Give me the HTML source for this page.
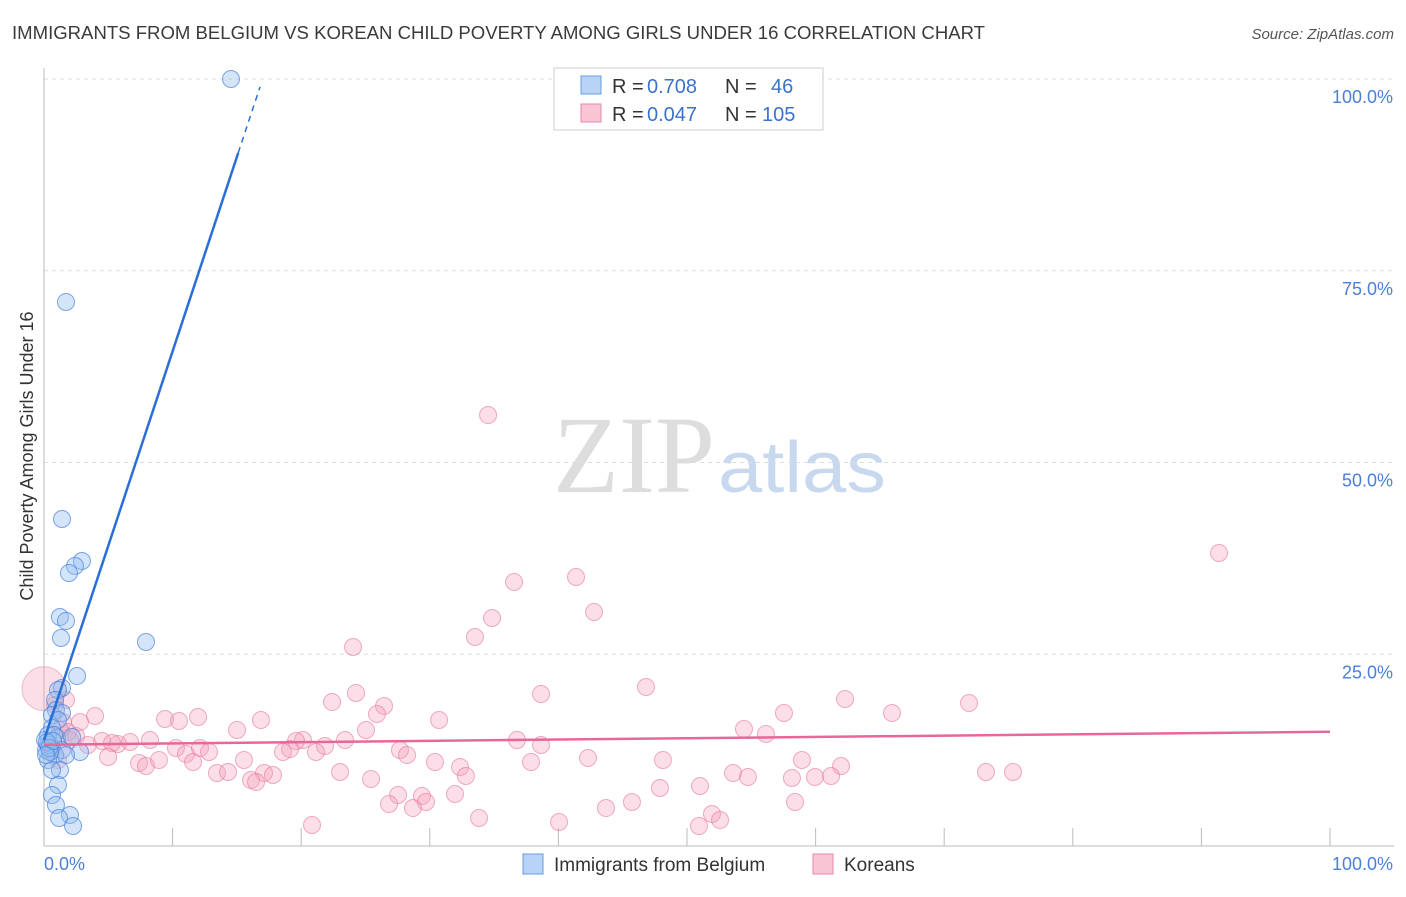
<!DOCTYPE html>
<html><head><meta charset="utf-8"><style>
body{margin:0;background:#fff;font-family:"Liberation Sans",sans-serif}
</style></head><body>
<svg width="1406" height="892" xmlns="http://www.w3.org/2000/svg" id="svg">
<text x="12" y="39" font-size="18" fill="#3a3a3a" textLength="973" lengthAdjust="spacingAndGlyphs">IMMIGRANTS FROM BELGIUM VS KOREAN CHILD POVERTY AMONG GIRLS UNDER 16 CORRELATION CHART</text>
<text x="1394" y="39" font-size="15" fill="#555" font-style="italic" text-anchor="end">Source: ZipAtlas.com</text>
<text x="33" y="456" font-size="18" fill="#333" text-anchor="middle" transform="rotate(-90 33 456)">Child Poverty Among Girls Under 16</text>
<text x="553" y="492" font-size="110" fill="#ddd" font-family="Liberation Serif" textLength="162" lengthAdjust="spacingAndGlyphs">ZIP</text>
<text x="718" y="492" font-size="72" fill="#c8d8ef" textLength="168" lengthAdjust="spacingAndGlyphs">atlas</text>
<g id="grid"></g><g id="pts"></g><g id="lines"></g>
<g>
<rect x="554" y="68" width="269" height="62" fill="#fff" stroke="#ccc"/>
<rect x="581" y="76" width="20" height="18" fill="#b8d3f5" stroke="#6a9de0"/>
<rect x="581" y="104" width="20" height="18" fill="#f9c4d4" stroke="#e58aa7"/>
<text y="93" font-size="20" fill="#333"><tspan x="612">R =</tspan><tspan x="647" fill="#3a72d0">0.708</tspan><tspan x="725">N =</tspan><tspan x="771" fill="#3a72d0">46</tspan></text>
<text y="121" font-size="20" fill="#333"><tspan x="612">R =</tspan><tspan x="647" fill="#3a72d0">0.047</tspan><tspan x="725">N =</tspan><tspan x="762" fill="#3a72d0">105</tspan></text>
</g>
<g>
<rect x="523" y="854" width="20" height="20" fill="#b8d3f5" stroke="#6a9de0"/>
<text x="554" y="871" font-size="19" fill="#333">Immigrants from Belgium</text>
<rect x="813" y="854" width="20" height="20" fill="#f9c4d4" stroke="#e58aa7"/>
<text x="844" y="871" font-size="19" fill="#333">Koreans</text>
</g>
</svg>
<script>
const bluePx=[[231,79],[66,302],[62,519],[82,561],[75,566],[69,573],[60,617],[66,621],[61,638],[146,642],[77,676],[62,688],[58,690],[55,700],[56,710],[52,715],[62,713],[58,720],[52,728],[48,735],[57,738],[72,737],[50,745],[46,750],[52,748],[62,750],[80,752],[55,755],[48,760],[66,755],[60,770],[52,770],[58,785],[52,795],[56,805],[70,815],[59,818],[73,826],[48,745],[45,740],[50,752],[54,735],[47,742],[49,748],[53,741],[46,755]];
const pinkPx=[[488,415],[1219,553],[576,577],[514,582],[594,612],[492,618],[475,637],[353,647],[646,687],[356,693],[541,694],[332,702],[384,706],[845,699],[969,703],[892,713],[784,713],[377,714],[439,720],[95,716],[165,719],[179,721],[198,717],[261,720],[237,730],[366,730],[744,729],[766,734],[517,740],[541,745],[345,740],[303,740],[296,741],[325,746],[63,722],[68,732],[76,736],[102,741],[118,744],[130,742],[150,740],[112,743],[88,745],[176,748],[186,754],[200,748],[209,752],[290,749],[316,752],[400,750],[407,755],[283,752],[244,760],[139,763],[108,757],[146,766],[159,760],[193,762],[217,773],[228,772],[264,773],[273,775],[251,780],[256,782],[340,772],[371,779],[435,762],[460,767],[466,776],[531,762],[588,758],[663,760],[802,760],[841,766],[733,773],[748,777],[792,778],[815,777],[831,776],[986,772],[1013,772],[660,788],[700,786],[455,794],[398,795],[422,796],[426,802],[389,804],[413,808],[632,802],[606,808],[795,802],[479,818],[712,814],[720,820],[559,822],[699,826],[312,825],[80,722],[58,760],[55,705],[60,730],[70,740],[66,700]];
const blueX=bluePx.map(p=>+((p[0]-44)/12.86).toFixed(2)), blueY=bluePx.map(p=>+((846-p[1])/7.67).toFixed(2));
const pinkX=pinkPx.map(p=>+((p[0]-44)/12.86).toFixed(2)), pinkY=pinkPx.map(p=>+((846-p[1])/7.67).toFixed(2));
const yTicks=[25,50,75,100], yTickLabels=["25.0%","50.0%","75.0%","100.0%"];
const blueTrend=[13.8,5.07], pinkTrend=[13.2,0.017];
const sx=v=>44+v*12.86, sy=v=>846-v*7.67;
const NS="http://www.w3.org/2000/svg";
function mk(t,a,p){const e=document.createElementNS(NS,t);for(const k in a)e.setAttribute(k,a[k]);p.appendChild(e);return e;}
const G=document.getElementById('grid'),P=document.getElementById('pts'),L=document.getElementById('lines');
yTicks.forEach((t,i)=>{const g=mk('line',{x1:44,x2:1394,y1:sy(t),y2:sy(t),stroke:'#ddd','stroke-dasharray':'4,4'},G);

const tx=mk('text',{x:1393,y:sy(t)+24,'font-size':18,fill:'#4a80d8','text-anchor':'end'},G);tx.textContent=yTickLabels[i];
});
mk('line',{x1:44,x2:44,y1:68,y2:846,stroke:'#bbb'},G);
mk('line',{x1:44,x2:1394,y1:846,y2:846,stroke:'#bbb'},G);
for(let i=1;i<=10;i++){const l=mk('line',{x1:44+i*128.6,x2:44+i*128.6,y1:828,y2:846,stroke:'#bbb'},G);}
let t1=mk('text',{x:44,y:870,'font-size':18,fill:'#4a80d8'},G);t1.textContent='0.0%';
let t2=mk('text',{x:1393,y:870,'font-size':18,fill:'#4a80d8','text-anchor':'end'},G);t2.textContent='100.0%';
const big=mk('circle',{cx:sx(0),cy:sy(20.5),r:22,fill:'rgba(244,160,185,0.35)',stroke:'rgba(230,130,160,0.5)'},P);

pinkX.forEach((x,i)=>{const c=mk('circle',{cx:sx(x),cy:sy(pinkY[i]),r:8.5,fill:'rgba(244,160,185,0.35)',stroke:'rgba(230,120,155,0.6)'},P);
});
blueX.forEach((x,i)=>{const c=mk('circle',{cx:sx(x),cy:sy(blueY[i]),r:8.5,fill:'rgba(150,190,240,0.4)',stroke:'rgba(70,130,220,0.7)'},P);
});
const bl=mk('line',{x1:sx(0),y1:sy(blueTrend[0]),x2:sx(15.1),y2:sy(blueTrend[0]+15.1*blueTrend[1]),stroke:'#2a6ed8','stroke-width':2.5},L);

const bd=mk('line',{x1:sx(15.1),y1:sy(blueTrend[0]+15.1*blueTrend[1]),x2:sx(16.8),y2:sy(blueTrend[0]+16.8*blueTrend[1]),stroke:'#2a6ed8','stroke-width':1.5,'stroke-dasharray':'6,5'},L);

const pl=mk('line',{x1:sx(0),y1:sy(pinkTrend[0]),x2:sx(100),y2:sy(pinkTrend[0]+100*pinkTrend[1]),stroke:'#e8679a','stroke-width':2.5},L);

</script>
</body></html>
